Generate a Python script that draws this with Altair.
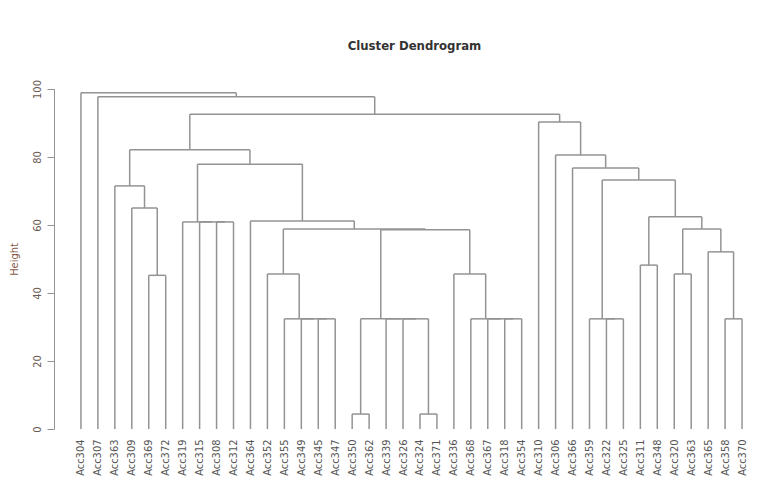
import altair as alt
import pandas as pd

# Leaf labels, left to right
labels = ["Acc304", "Acc307", "Acc363", "Acc309", "Acc369", "Acc372", "Acc319", "Acc315",
          "Acc308", "Acc312", "Acc364", "Acc352", "Acc355", "Acc349", "Acc345", "Acc347",
          "Acc350", "Acc362", "Acc339", "Acc326", "Acc324", "Acc371", "Acc336", "Acc368",
          "Acc367", "Acc318", "Acc354", "Acc310", "Acc306", "Acc366", "Acc359", "Acc322",
          "Acc325", "Acc311", "Acc348", "Acc320", "Acc363", "Acc365", "Acc358", "Acc370"]

# hclust-style merge table: negative = leaf (1-based position), positive = earlier merge (1-based)
merge_left = [-17, -21, -15, -14, -13, -20, -19, 1, -26, -25, -24, -32, -31, -39,
              -12, -23, -36, -5, -34, -38, 17, 8, 15, -11, -9, -8, -7, 19, -4, -3,
              13, -30, 27, -29, 30, -28, 35, -2, -1]
merge_right = [-18, -22, -16, 3, 4, 2, 6, 7, -27, 9, 10, -33, 12, -40,
               5, 11, -37, -6, -35, 14, 20, 16, 22, 23, -10, 25, 26, 21, 18, 29,
               28, 31, 24, 32, 33, 34, 36, 37, 38]
merge_height = [4.4, 4.4, 32.4, 32.4, 32.4, 32.4, 32.4, 32.4, 32.4, 32.4, 32.4, 32.4, 32.4, 32.4,
                45.6, 45.6, 45.6, 45.2, 48.2, 52.1, 58.8, 58.6, 58.8, 61.2, 60.9, 60.9, 60.9, 62.4,
                65.0, 71.5, 73.2, 76.8, 77.9, 80.6, 82.1, 90.3, 92.6, 97.7, 98.9]

y_ticks = [0, 20, 40, 60, 80, 100]

# Build dendrogram segments from the merge table
centers = []


def node_pos(ref):
    if ref < 0:
        return float(-ref), 0.0
    return centers[ref - 1], merge_height[ref - 1]


rows = []
for l, r, h in zip(merge_left, merge_right, merge_height):
    xl, hl = node_pos(l)
    xr, hr = node_pos(r)
    rows.append({"x": xl, "x2": xr, "y": h, "y2": h})
    rows.append({"x": xl, "x2": xl, "y": hl, "y2": h})
    rows.append({"x": xr, "x2": xr, "y": hr, "y2": h})
    centers.append((xl + xr) / 2)

seg = pd.DataFrame(rows)

label_arr = "[" + ",".join("'" + s + "'" for s in labels) + "]"

font = "Liberation Sans Narrow, DejaVu Sans Condensed, Liberation Sans, sans-serif"

chart = alt.Chart(seg).mark_rule(color="#939393", strokeWidth=1.5).encode(
    x=alt.X("x:Q",
            scale=alt.Scale(domain=[-0.59, 40.41], nice=False, zero=False),
            axis=alt.Axis(values=list(range(1, len(labels) + 1)),
                          labelExpr=label_arr + "[datum.value - 1]",
                          labelAngle=270, labelAlign="right", labelBaseline="middle",
                          labelPadding=10, labelOverlap=False, labelFlush=False,
                          labelBound=False, domain=False, ticks=False, grid=False,
                          labelFont=font, labelFontSize=11, labelColor="#555555",
                          title=None)),
    x2="x2:Q",
    y=alt.Y("y:Q",
            scale=alt.Scale(domain=[0, 100], nice=False),
            axis=alt.Axis(values=y_ticks, labelAngle=270, labelAlign="center",
                          labelBaseline="bottom", labelPadding=5, tickSize=7,
                          tickColor="#939393", domainColor="#939393", grid=False,
                          labelFont=font, labelFontSize=11, labelColor="#6a5a55",
                          title="Height", titleFont=font, titleFontSize=11,
                          titleFontWeight="normal", titleColor="#8a5a4a",
                          titlePadding=12)),
    y2="y2:Q",
).properties(
    width=695,
    height=340,
    background="white",
    autosize=alt.AutoSizeParams(type="none"),
    padding={"left": 46, "top": 81, "right": 0, "bottom": 50},
    title=alt.TitleParams("Cluster Dendrogram", font=font, fontSize=13, fontWeight="bold",
                          color="#333333", anchor="middle", dx=13, offset=27),
).configure_view(stroke=None)

chart.save("out.html", embed_options={"renderer": "svg", "actions": False})
